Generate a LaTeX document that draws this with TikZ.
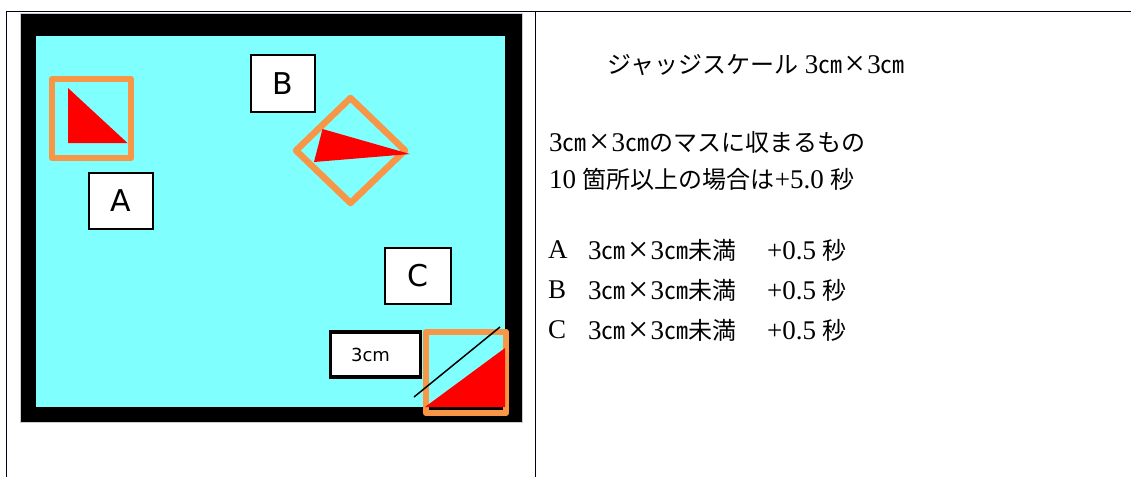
\documentclass[tikz,border=0pt]{standalone}
\usepackage{fontspec}
\setmainfont{Liberation Serif}
\newfontfamily\jp{Noto Sans CJK JP}
\newfontfamily\dvs{DejaVu Sans}
\newcommand\J[1]{{\jp\fontsize{24}{28}\selectfont #1}}
\newcommand\cmunit{\J{㎝}}
\newcommand\timesbox{\makebox[25pt]{\raisebox{-2pt}{\fontsize{36}{28}\selectfont ×}}}
\definecolor{cyanbg}{HTML}{80FFFF}
\definecolor{orangeline}{HTML}{F79646}
\definecolor{redfill}{HTML}{FF0000}
\tikzset{
  tableline/.style={line width=1.5pt, draw=black!90!blue},
  sqmark/.style={draw=orangeline, line width=6.5pt, line join=round},
  redtri/.style={fill=redfill, draw=none},
  letterbox/.style={draw=black, line width=2pt, fill=white, inner sep=0pt,
    font=\dvs\fontsize{30}{30}\selectfont},
  scalebox/.style={draw=black, line width=3.5pt, fill=white, inner sep=0pt,
    minimum width=90pt, minimum height=45pt, font=\dvs\fontsize{18}{18}\selectfont},
  rtext/.style={anchor=west, inner sep=0pt, font=\fontsize{27}{30}\selectfont}
}
\begin{document}
\begin{tikzpicture}[x=1pt,y=-1pt]
\useasboundingbox (0,0) rectangle (1131,477);
% table
\coordinate (tl) at (6.5,11.5);
\coordinate (tr) at (1131,11.5);
\coordinate (bl) at (6.5,477);
\coordinate (mt) at (535.5,11.5);
\coordinate (mb) at (535.5,477);
\draw[tableline] (tr) -- (tl) -- (bl);
\draw[tableline] (mt) -- (mb);
% image frame
\draw[gray!40, line width=0.8pt] (20,13) rectangle (522.5,422.5);
\fill[black] (21,14) rectangle (522,422);
\fill[cyanbg] (36,36) rectangle (505,407);
% A
\draw[sqmark] (52,79) rectangle (131,158);
\fill[redtri] (68,88) -- (68,143) -- (127.5,143) -- cycle;
\node[letterbox, minimum width=64pt, minimum height=56pt] (boxA) at (121,201) {\raisebox{-5pt}{A}};
% B
\draw[sqmark] (350.5,98) -- (405,150.5) -- (350.5,203) -- (296,150.5) -- cycle;
\fill[redtri] (322.5,129) -- (314,162) -- (410,154) -- cycle;
\node[letterbox, minimum width=64pt, minimum height=57pt] (boxB) at (283,83.5) {\raisebox{-6pt}{B}};
% C
\node[letterbox, minimum width=66pt, minimum height=56pt] (boxC) at (418,276) {\raisebox{-5pt}{C}};
\draw[sqmark] (426,332) rectangle (506,413);
\fill[redtri] (425,407) -- (505,348) -- (505,407) -- cycle;
\coordinate (cl1) at (414,397);
\coordinate (cl2) at (500,327);
\draw[black, line width=1.5pt] (cl1) -- (cl2);
\node[scalebox] (box3) at (375.5,354.5) {\hspace*{-10pt}\raisebox{-4.5pt}{3cm}};
% right text
\node[rtext] (t1) at (607,65) {\J{ジャッジスケール} 3\cmunit\timesbox 3\cmunit};
\node[rtext] (t2) at (549,142) {3\cmunit\timesbox 3\cmunit\J{のマスに収まるもの}};
\node[rtext] (t3) at (549,179) {10 \J{箇所以上の場合は}+5.0 \J{秒}};
\node[rtext] (la) at (548,250) {A};
\node[rtext] (ma) at (588,250) {3\cmunit\timesbox 3\cmunit\J{未満}};
\node[rtext] (ra) at (767,250) {+0.5 \J{秒}};
\node[rtext] (lb) at (548,290) {B};
\node[rtext] (mb2) at (588,290) {3\cmunit\timesbox 3\cmunit\J{未満}};
\node[rtext] (rb) at (767,290) {+0.5 \J{秒}};
\node[rtext] (lc) at (548,330) {C};
\node[rtext] (mc) at (588,330) {3\cmunit\timesbox 3\cmunit\J{未満}};
\node[rtext] (rc) at (767,330) {+0.5 \J{秒}};
\end{tikzpicture}
\end{document}
